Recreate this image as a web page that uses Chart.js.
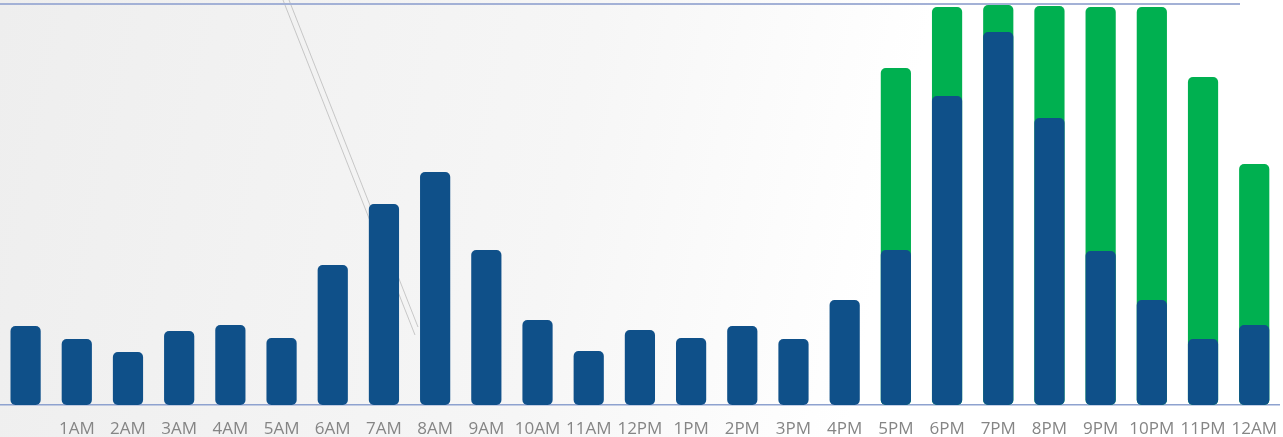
<!DOCTYPE html>
<html>
<head>
<meta charset="utf-8">
<script src="https://cdn.jsdelivr.net/npm/chart.js@4/dist/chart.umd.min.js"></script>
<style>
    html, body { margin: 0; padding: 0; background: #ffffff; }
    #wrap { width: 1283px; height: 437px; position: relative; }
</style>
</head>
<body>
<div id="wrap"><canvas id="hourlyChart"></canvas></div>
<script>
const hours = ["", "1AM", "2AM", "3AM", "4AM", "5AM", "6AM", "7AM", "8AM", "9AM", "10AM", "11AM",
    "12PM", "1PM", "2PM", "3PM", "4PM", "5PM", "6PM", "7PM", "8PM", "9PM", "10PM", "11PM", "12AM"];

const blueValues = [79, 66, 53, 74, 80, 67, 140, 201, 233, 155, 85, 54,
    75, 67, 79, 66, 105, 155, 309, 373, 287, 154, 105, 66, 80];

const greenValues = [null, null, null, null, null, null, null, null, null, null, null, null,
    null, null, null, null, null, 337, 398, 400, 399, 398, 398, 328, 241];

// background wash + top rule (decoration only)
const backdrop = {
    id: "backdrop",
    beforeDraw(chart) {
        const { ctx, width, height } = chart;
        ctx.save();
        const g = ctx.createLinearGradient(0, 0, width, height * 0.6);
        g.addColorStop(0, "#eeeeee");
        g.addColorStop(0.45, "#f6f6f6");
        g.addColorStop(0.7, "#ffffff");
        ctx.fillStyle = g;
        ctx.fillRect(0, 0, width, height);
        ctx.strokeStyle = "rgba(150,150,150,0.6)";
        ctx.lineWidth = 0.8;
        ctx.beginPath();
        ctx.moveTo(283, 0); ctx.lineTo(415, 335);
        ctx.moveTo(289, 0); ctx.lineTo(418, 327);
        ctx.stroke();
        ctx.restore();
    },
    afterDraw(chart) {
        const { ctx } = chart;
        ctx.save();
        ctx.strokeStyle = "#a3b1d6";
        ctx.lineWidth = 2;
        ctx.beginPath();
        ctx.moveTo(0, 4);
        ctx.lineTo(1240, 4);
        ctx.stroke();
        ctx.restore();
    },
};

const ctx = document.getElementById("hourlyChart").getContext("2d");

new Chart(ctx, {
    type: "bar",
    data: {
        labels: hours,
        datasets: [
            {
                label: "Blue",
                data: blueValues,
                backgroundColor: "#0f5089",
                borderRadius: 5,
                borderSkipped: false,
                barPercentage: 0.59,
                categoryPercentage: 1,
            },
            {
                label: "Green",
                data: greenValues,
                backgroundColor: "#00b050",
                borderRadius: 5,
                borderSkipped: false,
                barPercentage: 0.59,
                categoryPercentage: 1,
            },
        ],
    },
    options: {
        responsive: true,
        maintainAspectRatio: false,
        animation: false,
        layout: { padding: { top: 5, right: 2, left: 0, bottom: 0 } },
        plugins: {
            legend: { display: false },
            tooltip: { enabled: false },
        },
        scales: {
            x: {
                stacked: true,
                grid: { display: false },
                border: { display: true, color: "#8ea2cf", width: 1.5 },
                afterFit(scale) {
                    scale.height = 32;
                },
                ticks: {
                    color: "#858585",
                    padding: 6,
                    maxRotation: 0,
                    autoSkip: false,
                    font: { family: "Open Sans", size: 17 },
                },
            },
            y: {
                stacked: false,
                display: false,
                min: 0,
                max: 400,
            },
        },
    },
    plugins: [backdrop],
});
</script>
</body>
</html>
